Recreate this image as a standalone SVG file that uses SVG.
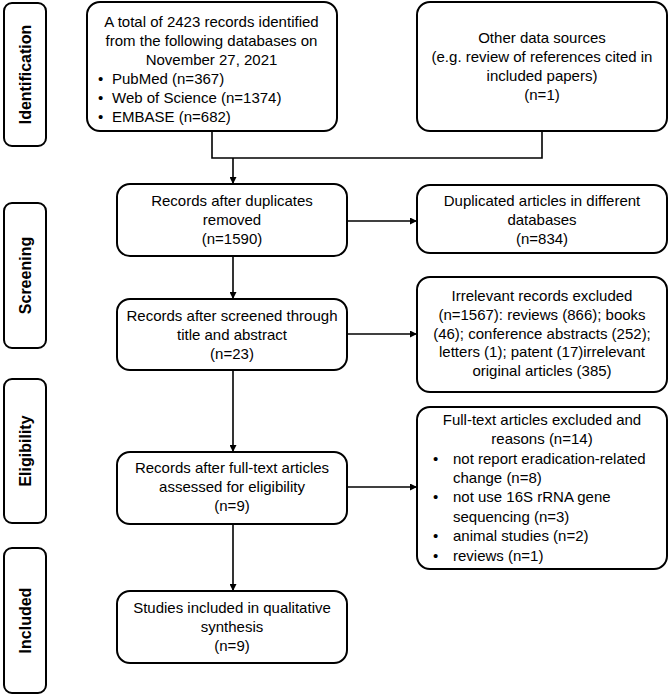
<svg xmlns="http://www.w3.org/2000/svg" width="669" height="695" viewBox="0 0 669 695">
<defs>
<style>
.box{fill:#fff;stroke:#000;stroke-width:2}
.t{font-family:"Liberation Sans",Arial,sans-serif;font-size:15px;fill:#000}
.c{text-anchor:middle}
.stage{font-family:"Liberation Sans",Arial,sans-serif;font-size:16px;font-weight:bold;fill:#000;text-anchor:middle}
.ln{fill:none;stroke:#000;stroke-width:1.6}
</style>
<marker id="ah" markerUnits="userSpaceOnUse" markerWidth="8" markerHeight="7" refX="7" refY="3.5" orient="auto">
<path d="M0,0 L7,3.5 L0,7 z" fill="#000"/>
</marker>
</defs>
<rect width="669" height="695" fill="#fff"/>

<g id="stage-identification">
<rect class="box" x="4" y="3" width="42" height="143" rx="8"/>
<text class="stage" transform="translate(31,74.5) rotate(-90)">Identification</text>
</g>
<g id="stage-screening">
<rect class="box" x="4" y="203" width="42" height="145" rx="8"/>
<text class="stage" transform="translate(31,275.5) rotate(-90)">Screening</text>
</g>
<g id="stage-eligibility">
<rect class="box" x="4" y="379" width="42" height="144" rx="8"/>
<text class="stage" transform="translate(31,451) rotate(-90)">Eligibility</text>
</g>
<g id="stage-included">
<rect class="box" x="4" y="548" width="42" height="145" rx="8"/>
<text class="stage" transform="translate(31,620.5) rotate(-90)">Included</text>
</g>

<g id="connectors">
<path class="ln" d="M212,131 V158 H542 V131"/>
<path class="ln" d="M233,158 V184" marker-end="url(#ah)"/>
<path class="ln" d="M347,221 H417" marker-end="url(#ah)"/>
<path class="ln" d="M233,256 V299" marker-end="url(#ah)"/>
<path class="ln" d="M347,334 H417" marker-end="url(#ah)"/>
<path class="ln" d="M233,370 V452" marker-end="url(#ah)"/>
<path class="ln" d="M347,487 H417" marker-end="url(#ah)"/>
<path class="ln" d="M233,524 V591" marker-end="url(#ah)"/>
</g>

<g id="n-databases">
<rect class="box" x="87" y="2" width="250" height="129" rx="13"/>
<text class="t c" x="211.5" y="27">A total of 2423 records identified</text>
<text class="t c" x="211.5" y="46">from the following databases on</text>
<text class="t c" x="211.5" y="65">November 27, 2021</text>
<text class="t" x="98" y="84">•</text><text class="t" x="112" y="84">PubMed (n=367)</text>
<text class="t" x="98" y="103">•</text><text class="t" x="112" y="103">Web of Science (n=1374)</text>
<text class="t" x="98" y="122">•</text><text class="t" x="112" y="122">EMBASE (n=682)</text>
</g>

<g id="n-other">
<rect class="box" x="417" y="2" width="250" height="129" rx="13"/>
<text class="t c" x="542" y="43">Other data sources</text>
<text class="t c" x="542" y="62">(e.g. review of references cited in</text>
<text class="t c" x="542" y="81">included papers)</text>
<text class="t c" x="542" y="100">(n=1)</text>
</g>

<g id="n-dedup">
<rect class="box" x="117" y="184" width="230" height="72" rx="13"/>
<text class="t c" x="232" y="206">Records after duplicates</text>
<text class="t c" x="232" y="225">removed</text>
<text class="t c" x="232" y="244">(n=1590)</text>
</g>

<g id="n-duplicated">
<rect class="box" x="417" y="185" width="250" height="68" rx="13"/>
<text class="t c" x="542" y="206">Duplicated articles in different</text>
<text class="t c" x="542" y="225">databases</text>
<text class="t c" x="542" y="244">(n=834)</text>
</g>

<g id="n-screened">
<rect class="box" x="117" y="299" width="230" height="71" rx="13"/>
<text class="t c" x="232" y="321">Records after screened through</text>
<text class="t c" x="232" y="340">title and abstract</text>
<text class="t c" x="232" y="359">(n=23)</text>
</g>

<g id="n-irrelevant">
<rect class="box" x="417" y="277" width="250" height="115" rx="13"/>
<text class="t c" x="542" y="301">Irrelevant records excluded</text>
<text class="t c" x="542" y="320">(n=1567): reviews (866); books</text>
<text class="t c" x="542" y="339">(46); conference abstracts (252);</text>
<text class="t c" x="542" y="357">letters (1); patent (17)irrelevant</text>
<text class="t c" x="542" y="376">original articles (385)</text>
</g>

<g id="n-fulltext">
<rect class="box" x="117" y="452" width="230" height="72" rx="13"/>
<text class="t c" x="232" y="473">Records after full-text articles</text>
<text class="t c" x="232" y="492">assessed for eligibility</text>
<text class="t c" x="232" y="511">(n=9)</text>
</g>

<g id="n-excluded">
<rect class="box" x="417" y="407" width="250" height="162" rx="13"/>
<text class="t c" x="542" y="425">Full-text articles excluded and</text>
<text class="t c" x="542" y="444">reasons (n=14)</text>
<text class="t" x="433" y="464">•</text><text class="t" x="453" y="464">not report eradication-related</text>
<text class="t" x="453" y="483">change (n=8)</text>
<text class="t" x="433" y="502">•</text><text class="t" x="453" y="502">not use 16S rRNA gene</text>
<text class="t" x="453" y="522">sequencing (n=3)</text>
<text class="t" x="433" y="541">•</text><text class="t" x="453" y="541">animal studies (n=2)</text>
<text class="t" x="433" y="561">•</text><text class="t" x="453" y="561">reviews (n=1)</text>
</g>

<g id="n-included">
<rect class="box" x="117" y="591" width="230" height="72" rx="13"/>
<text class="t c" x="232" y="613">Studies included in qualitative</text>
<text class="t c" x="232" y="632">synthesis</text>
<text class="t c" x="232" y="651">(n=9)</text>
</g>
</svg>
